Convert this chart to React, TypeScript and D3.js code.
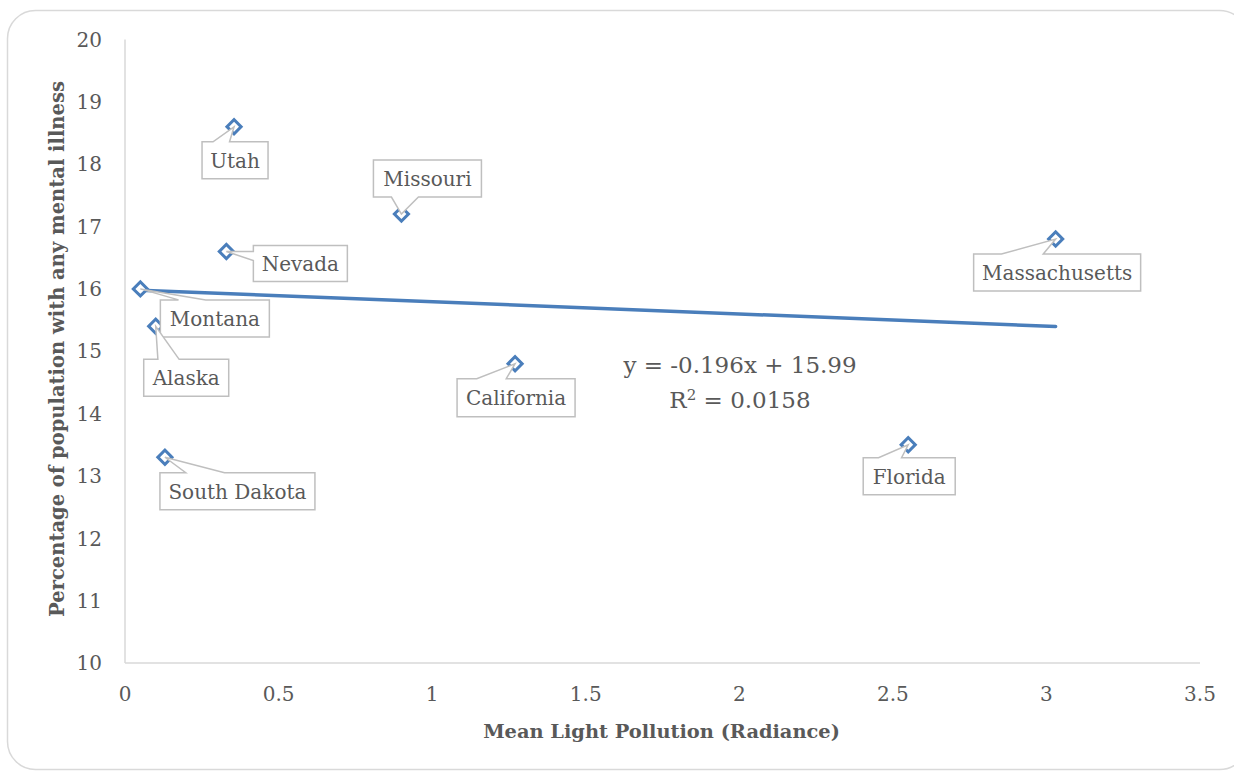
import React from "react";
import * as d3 from "d3";

// ---- data ----
const states = ["Utah", "Missouri", "Nevada", "Montana", "Alaska", "South Dakota", "California", "Florida", "Massachusetts"];
const lightPollution = [0.355, 0.9, 0.33, 0.05, 0.1, 0.13, 1.27, 2.55, 3.03];
const mentalIllness = [18.6, 17.2, 16.6, 16.0, 15.4, 13.3, 14.8, 13.5, 16.8];
const xTicks = [0, 0.5, 1, 1.5, 2, 2.5, 3, 3.5];
const yTicks = [10, 11, 12, 13, 14, 15, 16, 17, 18, 19, 20];
const trendSlope = -0.196;
const trendIntercept = 15.99;
const rSquared = 0.0158;

// ---- layout (label boxes relative to their point, in px) ----
const labelBoxes = [
  { dx: -32, dy: 15, w: 66, h: 37 },
  { dx: -28, dy: -54, w: 108, h: 37 },
  { dx: 27, dy: -6, w: 94, h: 36 },
  { dx: 20, dy: 11, w: 109, h: 37 },
  { dx: -12, dy: 33, w: 85, h: 37 },
  { dx: -5, dy: 15.5, w: 155, h: 37 },
  { dx: -58, dy: 15, w: 118, h: 38 },
  { dx: -45, dy: 13, w: 92, h: 37 },
  { dx: -82, dy: 15, w: 167, h: 37 },
];

const W = 1234;
const H = 771;
const FONT = "'DejaVu Serif', serif";
const TEXT = "#595959";
const BLUE = "#4a7ebb";

function calloutPath(x0: number, y0: number, w: number, h: number, tx: number, ty: number) {
  const hc = x0 + w / 2, vc = y0 + h / 2;
  const dx = tx - hc, dy = ty - vc;
  const dq = (dx * h) / w;
  const vertical = Math.abs(dy) > Math.abs(dq);
  const xa = x0 + (w * (dx > 0 ? 7 : 2)) / 12, xb = x0 + (w * (dx > 0 ? 10 : 5)) / 12;
  const ya = y0 + (h * (dy > 0 ? 7 : 2)) / 12, yb = y0 + (h * (dy > 0 ? 10 : 5)) / 12;
  const p = d3.path();
  p.moveTo(x0, y0);
  if (vertical && dy < 0) { p.lineTo(xa, y0); p.lineTo(tx, ty); p.lineTo(xb, y0); }
  p.lineTo(x0 + w, y0);
  if (!vertical && dx > 0) { p.lineTo(x0 + w, ya); p.lineTo(tx, ty); p.lineTo(x0 + w, yb); }
  p.lineTo(x0 + w, y0 + h);
  if (vertical && dy > 0) { p.lineTo(xb, y0 + h); p.lineTo(tx, ty); p.lineTo(xa, y0 + h); }
  p.lineTo(x0, y0 + h);
  if (!vertical && dx < 0) { p.lineTo(x0, yb); p.lineTo(tx, ty); p.lineTo(x0, ya); }
  p.closePath();
  return p.toString();
}

export default function App() {
  const x = d3.scaleLinear().domain([0, 3.5]).range([125, 1200]);
  const y = d3.scaleLinear().domain([10, 20]).range([663, 39.5]);

  const xMin = d3.min(lightPollution) as number;
  const xMax = d3.max(lightPollution) as number;
  const trend = d3.line<number>().x((v) => x(v)).y((v) => y(trendSlope * v + trendIntercept));

  const diamond = d3.symbol().type(d3.symbolSquare).size(100)();

  return (
    <svg width={W} height={H} style={{ position: "absolute", left: 0, top: 0, background: "#fff" }} fontFamily={FONT}>
      <rect x={7.5} y={10.5} width={1240} height={759} rx={28} fill="#fff" stroke="#d9d9d9" strokeWidth={1.5} />
      {/* axes */}
      <line x1={x(0)} x2={x(0)} y1={y(20)} y2={y(10)} stroke="#d9d9d9" strokeWidth={1.5} />
      <line x1={x(0)} x2={x(3.5)} y1={y(10)} y2={y(10)} stroke="#d9d9d9" strokeWidth={1.5} />
      {yTicks.map((t) => (
        <text key={"y" + t} x={102} y={y(t)} dy="0.36em" textAnchor="end" fontSize={20} fill={TEXT}>
          {t}
        </text>
      ))}
      {xTicks.map((t) => (
        <text key={"x" + t} x={x(t)} y={701} textAnchor="middle" fontSize={20} fill={TEXT}>
          {t}
        </text>
      ))}
      <text x={661.5} y={738} textAnchor="middle" fontSize={19.4} fontWeight="bold" fill={TEXT}>
        Mean Light Pollution (Radiance)
      </text>
      <text transform="translate(64,349) rotate(-90)" textAnchor="middle" fontSize={19.5} fontWeight="bold" fill={TEXT}>
        Percentage of population with any mental illness
      </text>
      {/* trendline */}
      <path d={trend([xMin, xMax]) || ""} fill="none" stroke={BLUE} strokeWidth={3.5} strokeLinecap="round" />
      <text x={740} y={373} textAnchor="middle" fontSize={23} fill={TEXT}>
        y = {trendSlope.toFixed(3)}x + {trendIntercept.toFixed(2)}
      </text>
      <text x={740} y={408} textAnchor="middle" fontSize={23} fill={TEXT}>
        R<tspan dy={-8} fontSize={15}>2</tspan><tspan dy={8}> = {rSquared}</tspan>
      </text>
      {/* markers */}
      {states.map((s, i) => (
        <path
          key={"m" + s}
          d={diamond || ""}
          transform={`translate(${x(lightPollution[i])},${y(mentalIllness[i])}) rotate(45)`}
          fill="#fff"
          stroke={BLUE}
          strokeWidth={3}
        />
      ))}
      {/* callouts */}
      {states.map((s, i) => {
        const px = x(lightPollution[i]);
        const py = y(mentalIllness[i]);
        const b = labelBoxes[i];
        const bx = px + b.dx;
        const by = py + b.dy;
        return (
          <g key={"l" + s}>
            <path d={calloutPath(bx, by, b.w, b.h, px, py)} fill="#fff" stroke="#bfbfbf" strokeWidth={1.5} />
            <text x={bx + b.w / 2} y={by + 26} textAnchor="middle" fontSize={20} fill={TEXT}>
              {s}
            </text>
          </g>
        );
      })}
    </svg>
  );
}
